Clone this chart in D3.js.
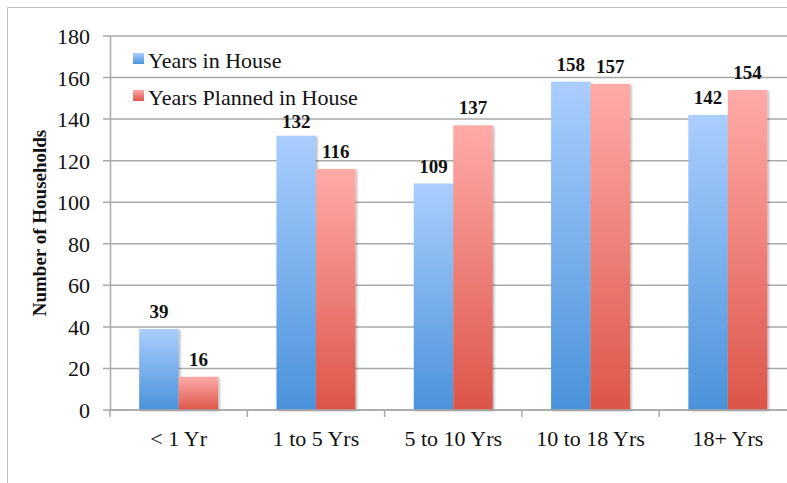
<!DOCTYPE html>
<html>
<head>
<meta charset="utf-8">
<script src="https://cdn.jsdelivr.net/npm/d3@7"></script>
<style>
	body { margin: 0; background: #fff; }
	svg { display: block; font-family: "Liberation Serif", serif; }
</style>
</head>
<body>
<script>
const w = 787;
const h = 483;

// data
const categories = ["< 1 Yr", "1 to 5 Yrs", "5 to 10 Yrs", "10 to 18 Yrs", "18+ Yrs"];
const seriesNames = ["Years in House", "Years Planned in House"];
const yearsInHouse = [39, 132, 109, 158, 142];
const yearsPlanned = [16, 116, 137, 157, 154];
const yTicks = [0, 20, 40, 60, 80, 100, 120, 140, 160, 180];

const seriesValues = [yearsInHouse, yearsPlanned];
const rows = categories.map((c, i) => ({
	cat: c,
	vals: seriesNames.map((s, j) => ({ key: s, value: seriesValues[j][i] })),
}));

const plotLeft = 110;
const plotRight = 796.5;
const plotTop = 36;
const plotBottom = 410;

const svg = d3.select("body").append("svg").attr("width", w).attr("height", h);

// * GRADIENTS & SHADOW
const defs = svg.append("defs");
const gradColors = [
	["#aacefe", "#4a92da"],
	["#ffaba8", "#dc5549"],
];
gradColors.forEach((c, i) => {
	const g = defs.append("linearGradient")
		.attr("id", "grad" + i)
		.attr("x1", 0).attr("y1", 0).attr("x2", 0).attr("y2", 1);
	g.append("stop").attr("offset", "0%").attr("stop-color", c[0]);
	g.append("stop").attr("offset", "100%").attr("stop-color", c[1]);
});
defs.append("filter")
	.attr("id", "shadow")
	.attr("x", "-10%").attr("y", "-10%").attr("width", "130%").attr("height", "130%")
	.append("feDropShadow")
	.attr("dx", 1.5).attr("dy", 1)
	.attr("stdDeviation", 1.2)
	.attr("flood-color", "#000")
	.attr("flood-opacity", 0.3);

// outer frame
svg.append("path")
	.attr("d", `M7.5,${h} V7.5 H${w}`)
	.attr("fill", "none")
	.attr("stroke", "#bdbdbd")
	.attr("stroke-width", 1);

// * SCALES
const x0 = d3.scaleBand()
	.domain(categories)
	.range([plotLeft, plotRight])
	.paddingInner(0.425)
	.paddingOuter(0.2125);
const x1 = d3.scaleBand()
	.domain(seriesNames)
	.range([0, x0.bandwidth()]);
const y = d3.scaleLinear().domain([0, 180]).range([plotBottom, plotTop]);

// * GRID
svg.append("g")
	.selectAll("line")
	.data(yTicks)
	.enter()
	.append("line")
	.attr("x1", plotLeft - 7)
	.attr("x2", plotRight)
	.attr("y1", (d) => y(d))
	.attr("y2", (d) => y(d))
	.attr("stroke", "#a9a9a9")
	.attr("stroke-width", 1.5);

// * Y AXIS
const yAxis = d3.axisLeft(y).tickValues(yTicks).tickSize(0).tickPadding(20);
svg.append("g")
	.attr("transform", `translate(${plotLeft},0)`)
	.call(yAxis)
	.call((g) => g.select(".domain").attr("stroke", "#a9a9a9").attr("stroke-width", 1.5))
	.call((g) => g.selectAll("text")
		.attr("font-family", "Liberation Serif")
		.attr("font-size", 22)
		.attr("fill", "#111")
		.attr("dy", "0.34em"));

// * LEGEND
const legendG = svg.append("g");
const legend = legendG
	.selectAll("g")
	.data(seriesNames)
	.enter()
	.append("g")
	.attr("transform", (d, i) => `translate(133,${53 + i * 37})`);
legend.append("rect")
	.attr("width", 11)
	.attr("height", 11)
	.attr("fill", (d, i) => `url(#grad${i})`);
legend.append("text")
	.attr("x", 15)
	.attr("y", 15)
	.attr("font-size", 22)
	.attr("fill", "#111")
	.text((d) => d);
const lb = legendG.node().getBBox();

// * BARS
const groups = svg.append("g")
	.selectAll("g")
	.data(rows)
	.enter()
	.append("g")
	.attr("transform", (d) => `translate(${x0(d.cat)},0)`);

groups.selectAll("rect")
	.data((d) => d.vals)
	.enter()
	.append("rect")
	.attr("x", (d) => x1(d.key))
	.attr("y", (d) => y(d.value))
	.attr("width", x1.bandwidth())
	.attr("height", (d) => y(0) - y(d.value))
	.attr("fill", (d, i) => `url(#grad${i})`)
	.attr("filter", "url(#shadow)");

// data labels: sit above the bar, nudged closer if they would hit the legend
groups.selectAll("text")
	.data((d) => d.vals)
	.enter()
	.append("text")
	.attr("x", (d) => x1(d.key) + x1.bandwidth() / 2)
	.attr("y", (d) => y(d.value) - 11)
	.attr("text-anchor", "middle")
	.attr("font-weight", "bold")
	.attr("font-size", 19)
	.attr("fill", "#111")
	.text((d) => d.value)
	.each(function (d) {
		const b = this.getBBox();
		const gx = x0(d3.select(this.parentNode).datum().cat);
		const hitsX = gx + b.x < lb.x + lb.width && gx + b.x + b.width > lb.x;
		if (hitsX && b.y < lb.y + lb.height) {
			d3.select(this).attr("y", lb.y + lb.height + (y(d.value) - 11 - b.y) + 1);
		}
	});

// * X AXIS
const xg = svg.append("g").attr("transform", `translate(0,${plotBottom})`);
xg.append("line")
	.attr("x1", plotLeft).attr("x2", plotRight)
	.attr("stroke", "#a9a9a9").attr("stroke-width", 1.5);
xg.selectAll(".tick")
	.data(d3.range(categories.length + 1))
	.enter()
	.append("line")
	.attr("x1", (i) => plotLeft + i * x0.step())
	.attr("x2", (i) => plotLeft + i * x0.step())
	.attr("y1", 0).attr("y2", 7)
	.attr("stroke", "#a9a9a9").attr("stroke-width", 1.5);
xg.selectAll("text")
	.data(categories)
	.enter()
	.append("text")
	.attr("x", (d) => x0(d) + x0.bandwidth() / 2)
	.attr("y", 36)
	.attr("text-anchor", "middle")
	.attr("font-size", 22)
	.attr("fill", "#111")
	.text((d) => d);

// * Y TITLE
svg.append("text")
	.attr("transform", `translate(46,${(plotTop + plotBottom) / 2}) rotate(-90)`)
	.attr("text-anchor", "middle")
	.attr("font-weight", "bold")
	.attr("font-size", 19)
	.attr("fill", "#111")
	.text("Number of Households");
</script>
</body>
</html>
